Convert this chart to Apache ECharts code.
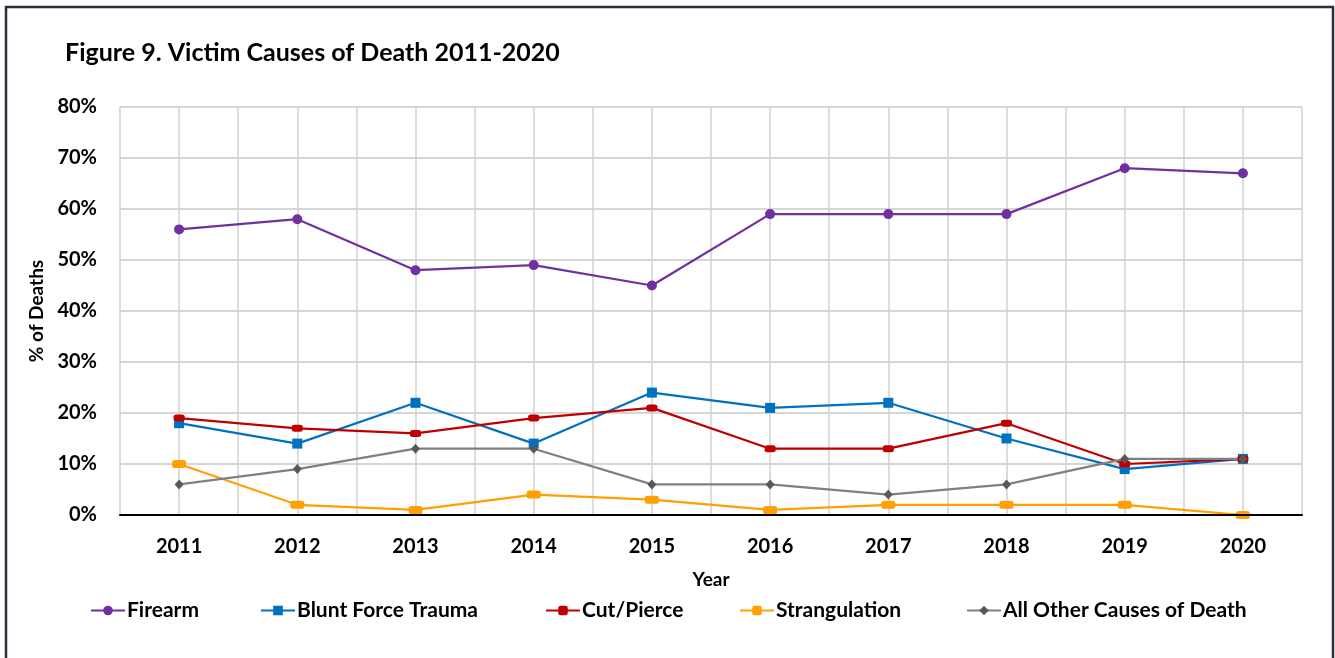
<!DOCTYPE html>
<html>
<head>
<meta charset="utf-8">
<script src="https://cdn.jsdelivr.net/npm/echarts@6/dist/echarts.min.js"></script>
<style>
  body { margin: 0; background: #fff; }
  #main { width: 1335px; height: 658px; }
</style>
</head>
<body>
<div id="main"></div>
<script>
// data (percent of deaths)
var years = ['2011', '2012', '2013', '2014', '2015', '2016', '2017', '2018', '2019', '2020'];
var yTicks = ['0%', '10%', '20%', '30%', '40%', '50%', '60%', '70%', '80%'];
var firearm = [56, 58, 48, 49, 45, 59, 59, 59, 68, 67];
var bluntForce = [18, 14, 22, 14, 24, 21, 22, 15, 9, 11];
var cutPierce = [19, 17, 16, 19, 21, 13, 13, 18, 10, 11];
var strangulation = [10, 2, 1, 4, 3, 1, 2, 2, 2, 0];
var otherCauses = [6, 9, 13, 13, 6, 6, 4, 6, 11, 11];

var font = 'Lato, "Open Sans", sans-serif';

var chart = echarts.init(document.getElementById('main'));

function lineSeries(name, data, color, symbol, size, symbolColor) {
    return {
        name: name,
        type: 'line',
        data: data,
        symbol: symbol,
        symbolSize: size,
        showSymbol: true,
        lineStyle: { color: color, width: 2.2 },
        itemStyle: { color: symbolColor || color },
        emphasis: { disabled: true },
        animation: false
    };
}

// one legend per item so the items sit where they are in the figure
var legendLeft = [90, 260, 545, 739, 966];
var names = ['Firearm', 'Blunt Force Trauma', 'Cut/Pierce', 'Strangulation', 'All Other Causes of Death'];
var legends = names.map(function (n, i) {
    return {
        data: [n],
        left: legendLeft[i],
        top: 600,
        padding: 0,
        itemWidth: 34,
        itemHeight: 12,
        itemGap: 0,
        textStyle: { fontFamily: font, fontWeight: 'bold', fontSize: 21, color: '#000', padding: [0, 0, 0, -3] }
    };
});

var option = {
    backgroundColor: '#fff',
    title: {
        text: 'Figure 9. Victim Causes of Death 2011-2020',
        left: 65,
        top: 40,
        padding: 0,
        textStyle: { fontFamily: font, fontWeight: 'bold', fontSize: 25, color: '#000' }
    },
    graphic: [{
        type: 'rect',
        shape: { x: 6, y: 7, width: 1327, height: 700 },
        style: { fill: 'none', stroke: '#2c2c3c', lineWidth: 2.5 },
        silent: true
    }],
    legend: legends,
    grid: { left: 120, right: 33, top: 107, bottom: 143 },
    xAxis: [{
        type: 'category',
        data: years,
        boundaryGap: true,
        name: 'Year',
        nameLocation: 'middle',
        nameGap: 55,
        nameTextStyle: { fontFamily: font, fontWeight: 'bold', fontSize: 19, color: '#000' },
        axisLine: { show: true, lineStyle: { color: '#000', width: 2 } },
        axisTick: { show: false },
        axisLabel: { fontFamily: font, fontWeight: 'bold', fontSize: 20, color: '#000', margin: 22 },
        splitLine: { show: false },
        z: 5
    }, {
        // half-category vertical gridlines
        type: 'value',
        min: 0,
        max: 20,
        interval: 1,
        position: 'bottom',
        axisLine: { show: false },
        axisTick: { show: false },
        axisLabel: { show: false },
        splitLine: { show: true, lineStyle: { color: '#d0d0d0', width: 1.5 } }
    }],
    yAxis: {
        type: 'value',
        min: 0,
        max: 80,
        interval: 10,
        name: '% of Deaths',
        nameLocation: 'middle',
        nameGap: 61,
        nameTextStyle: { fontFamily: font, fontWeight: 'bold', fontSize: 19, color: '#000' },
        axisLine: { show: false },
        axisTick: { show: false },
        axisLabel: {
            fontFamily: font, fontWeight: 'bold', fontSize: 20, color: '#000', margin: 23,
            formatter: function (v) { return yTicks[v / 10]; }
        },
        splitLine: { show: true, lineStyle: { color: '#c8c8c8', width: 1.5 } }
    },
    series: [
        lineSeries('Firearm', firearm, '#7030A0', 'circle', 10),
        lineSeries('Blunt Force Trauma', bluntForce, '#0070C0', 'rect', 10),
        lineSeries('Cut/Pierce', cutPierce, '#C00000', 'roundRect', [11, 7]),
        lineSeries('Strangulation', strangulation, '#FFA000', 'roundRect', [14, 8]),
        lineSeries('All Other Causes of Death', otherCauses, '#808080', 'diamond', [9, 10], '#595959')
    ]
};

chart.setOption(option);
</script>
</body>
</html>
